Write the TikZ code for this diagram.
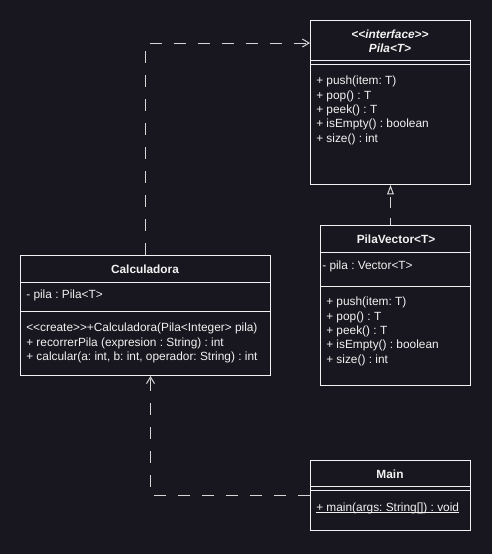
\documentclass[tikz,border=0pt]{standalone}
\usepackage{fontspec}
\setmainfont{Liberation Sans}[Ligatures=TeXOff]
\usepackage{xcolor}
\usepackage{tikz}
\usetikzlibrary{calc}
\usetikzlibrary{arrows.meta}
\definecolor{bg}{RGB}{24,22,30}
\definecolor{ink}{RGB}{242,242,242}
\definecolor{conn}{RGB}{215,215,215}
\frenchspacing
\begin{document}
\begin{tikzpicture}[x=0.75pt,y=-0.75pt,
	classbox/.style={draw=ink,line width=0.75pt,inner sep=0pt,anchor=north west},
	sep/.style={draw=ink,line width=0.75pt},
	txt/.style={text=ink,inner sep=0pt,font=\fontsize{8.9}{10.8}\selectfont},
	members/.style={txt,anchor=west,align=left},
	title/.style={txt,font=\fontsize{8.9}{10.8}\selectfont\bfseries},
	dep/.style={draw=conn,line width=0.75pt,dash pattern=on 9pt off 9pt,-{Straight Barb[length=5pt,width=6pt]}},
	real/.style={draw=conn,line width=0.75pt,dash pattern=on 8pt off 8pt,-{Triangle[open,length=7pt,width=5pt]}}]
	\fill[bg] (0,0) rectangle (492,554);
	\useasboundingbox (0,0) rectangle (492,554);
	% interface
	\node[classbox,minimum width=120pt,minimum height=123pt] (pila) at (310,20) {};
	\draw[sep] (310,60)--(471,60);
	\draw[sep] (310,64)--(471,64);
	\node[title,font=\fontsize{8.9}{10.8}\selectfont\bfseries\itshape] (pilast) at (390,34) {<<interface>>};
	\node[title,font=\fontsize{8.9}{10.8}\selectfont\bfseries\itshape] (pilaname) at (390,48) {Pila<T>};
	\node[members] (pilaops) at (316,110.5) {+ push(item: T)\\+ pop() : T\\+ peek() : T\\+ isEmpty() : boolean\\+ size() : int};
	% implementacion
	\node[classbox,minimum width=112.5pt,minimum height=120pt] (pv) at (320,225) {};
	\draw[sep] (320,252)--(471,252);
	\draw[sep] (320,286)--(471,286);
	\node[title] (pvname) at (396,239) {PilaVector<T>};
	\node[members] (pvattr) at (322,266) {- pila : Vector<T>};
	\node[members] (pvops) at (326,331.5) {+ push(item: T)\\+ pop() : T\\+ peek() : T\\+ isEmpty() : boolean\\+ size() : int};
	% calculadora
	\node[classbox,minimum width=187.5pt,minimum height=90pt] (calc) at (20,255) {};
	\draw[sep] (20,282)--(270,282);
	\draw[sep] (20,311)--(270,311);
	\node[title] (calcname) at (145,269) {Calculadora};
	\node[members] (calcattr) at (26,295) {- pila : Pila<T>};
	\node[members] (calcops) at (26,343) {<<create>>+Calculadora(Pila<Integer> pila)\\+ recorrerPila (expresion : String) : int\\+ calcular(a: int, b: int, operador: String) : int};
	% main
	\node[classbox,minimum width=120pt,minimum height=52.5pt] (main) at (310,460) {};
	\draw[sep] (310,486)--(471,486);
	\draw[sep] (310,490)--(471,490);
	\node[title] (mainname) at (390,474) {Main};
	\node[members] (mainops) at (316,508) {+ main(args: String[]) : void};
	\draw[ink,line width=0.6pt] ([yshift=-1.2pt]mainops.base west)--([yshift=-1.2pt]mainops.base east);
	% relaciones
	\draw[dep] (calc.north) |- ($(pila.north west)+(0,23)$);
	\draw[real,dash phase=3pt] (pv.north -| pila.south) -- (pila.south);
	\draw[dep] (main.west) -| ($(calc.south)+(5,0)$);
\end{tikzpicture}
\end{document}
